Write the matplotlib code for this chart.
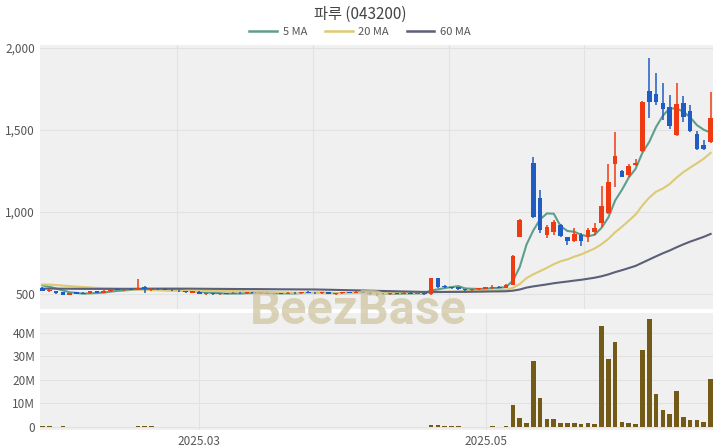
import numpy as np
import pandas as pd
import matplotlib
matplotlib.use('Agg')
import matplotlib.pyplot as plt
from matplotlib.lines import Line2D

plt.rcParams['font.family'] = ['Noto Sans CJK KR', 'DejaVu Sans']

title = '파루 (043200)'

# trading days shown (KRX holidays removed)
holidays = ['2025-01-27', '2025-01-28', '2025-01-29', '2025-01-30', '2025-03-03',
            '2025-05-01', '2025-05-05', '2025-05-06', '2025-06-03', '2025-06-06']
dates = pd.bdate_range('2025-01-23', '2025-06-24')
dates = dates[~dates.isin(pd.to_datetime(holidays))]

opens = [535, 515, 518, 510, 495, 510, 508, 503, 515, 505,
         515, 528, 525, 528, 525, 540, 525, 533, 532, 525,
         520, 518, 508, 512, 500, 505, 498, 503, 500, 506,
         503, 510, 505, 507, 500, 503, 499, 508, 504, 512,
         507, 503, 510, 500, 505, 508, 505, 513, 507, 498,
         502, 497, 503, 500, 507, 502, 505, 498, 595, 548,
         540, 540, 528, 524, 528, 530, 535, 545, 538, 555,
         848, 1235, 1300, 1085, 860, 880, 920, 845, 820, 860,
         850, 880, 930, 995, 1295, 1250, 1225, 1285, 1370, 1740,
         1720, 1665, 1640, 1470, 1665, 1615, 1475, 1410, 1425]
highs = [540, 528, 520, 512, 508, 512, 512, 518, 518, 522,
         532, 535, 532, 534, 592, 548, 535, 538, 538, 530,
         525, 520, 518, 515, 508, 508, 506, 508, 510, 510,
         512, 514, 510, 510, 506, 508, 510, 512, 514, 515,
         512, 512, 513, 508, 510, 512, 515, 516, 512, 506,
         506, 505, 508, 510, 512, 508, 508, 598, 597, 552,
         545, 545, 532, 532, 536, 545, 552, 550, 560, 735,
         955, 1235, 1335, 1135, 920, 950, 925, 850, 900, 870,
         900, 930, 1160, 1290, 1485, 1255, 1290, 1320, 1675, 1940,
         1845, 1785, 1715, 1785, 1710, 1650, 1495, 1440, 1730]
lows = [518, 512, 502, 494, 492, 498, 498, 500, 503, 503,
        512, 522, 520, 522, 522, 505, 520, 525, 522, 518,
        512, 506, 505, 500, 495, 496, 494, 498, 498, 500,
        500, 503, 500, 498, 495, 497, 497, 502, 502, 505,
        500, 500, 498, 496, 500, 503, 503, 505, 495, 490,
        495, 494, 498, 498, 500, 498, 496, 492, 535, 535,
        532, 522, 520, 520, 525, 528, 532, 535, 535, 552,
        845, 1235, 965, 870, 840, 860, 850, 800, 815, 790,
        815, 860, 910, 985, 1150, 1212, 1215, 1280, 1365, 1570,
        1655, 1560, 1505, 1465, 1550, 1485, 1378, 1380, 1420]
closes = [520, 525, 505, 496, 505, 500, 502, 515, 506, 518,
          528, 526, 528, 525, 535, 528, 532, 527, 525, 522,
          515, 510, 515, 502, 505, 498, 503, 500, 507, 503,
          510, 505, 507, 500, 503, 499, 508, 504, 512, 507,
          503, 510, 500, 505, 508, 505, 513, 507, 498, 502,
          497, 503, 500, 507, 502, 505, 498, 595, 540, 540,
          535, 528, 524, 530, 534, 540, 545, 538, 552, 730,
          950, 1235, 970, 890, 910, 940, 855, 825, 865, 820,
          890, 905, 1035, 1180, 1340, 1215, 1280, 1300, 1670, 1670,
          1670, 1625, 1525, 1660, 1580, 1495, 1385, 1385, 1575]
volumes_m = [0.3, 0.2, 0.15, 0.2, 0.15, 0.1, 0.1, 0.1, 0.1, 0.1,
             0.15, 0.1, 0.1, 0.15, 0.5, 0.4, 0.2, 0.15, 0.15, 0.1,
             0.1, 0.1, 0.1, 0.1, 0.1, 0.1, 0.1, 0.1, 0.1, 0.1,
             0.1, 0.1, 0.1, 0.1, 0.1, 0.1, 0.1, 0.1, 0.1, 0.1,
             0.1, 0.1, 0.1, 0.1, 0.1, 0.1, 0.1, 0.1, 0.15, 0.1,
             0.1, 0.1, 0.1, 0.1, 0.1, 0.1, 0.1, 1.0, 0.8, 0.3,
             0.2, 0.2, 0.1, 0.1, 0.1, 0.15, 0.2, 0.15, 0.3, 9.4,
             3.7, 1.6, 28.2, 12.2, 3.3, 3.3, 1.8, 1.6, 1.6, 1.4,
             1.8, 1.3, 43.0, 28.9, 36.2, 2.1, 1.6, 1.3, 32.6, 45.8,
             14.0, 7.4, 5.7, 15.2, 4.4, 2.8, 2.8, 2.3, 20.3]
# closes before the window, only used to seed the moving averages
prior_closes = [522, 518, 515, 520, 524, 519, 516, 514, 518, 521,
                523, 520, 517, 515, 512, 516, 519, 522, 520, 518,
                521, 524, 526, 522, 519, 517, 520, 523, 521, 518,
                516, 519, 522, 525, 521, 518, 520, 523, 519, 521,
                548, 556, 562, 565, 560, 558, 563, 567, 561, 557,
                560, 564, 558, 555, 561, 566, 559, 556, 560]

ma_windows = [5, 20, 60]
ma_labels = ['5 MA', '20 MA', '60 MA']
ma_colors = ['#5e9e8b', '#dcca74', '#5b5f78']

up_color = '#ee3b12'
down_color = '#1f5cc4'
vol_color = '#745a17'
bg = '#f0f0f0'
grid_c = '#e2e2e2'
text_c = '#555555'

o = np.array(opens, float)
h = np.array(highs, float)
l = np.array(lows, float)
c = np.array(closes, float)
v = np.array(volumes_m) * 1e6
x = np.arange(len(c))

all_close = pd.Series(prior_closes + closes, dtype=float)
n_prior = len(prior_closes)

fig = plt.figure(figsize=(7.2, 4.48), dpi=100)
ax = fig.add_axes([40 / 720, 1 - 309 / 448, 673 / 720, 264 / 448])
axv = fig.add_axes([40 / 720, 1 - 430 / 448, 673 / 720, 117 / 448])

for a in (ax, axv):
    a.set_facecolor(bg)
    for s in a.spines.values():
        s.set_visible(False)
    a.tick_params(length=0, labelsize=8.5, labelcolor=text_c)
    a.set_xlim(-0.35, len(c) - 0.65)
    a.set_axisbelow(True)

# moving averages
for w, lab, col in zip(ma_windows, ma_labels, ma_colors):
    ma = all_close.rolling(w).mean().to_numpy()[n_prior:]
    ax.plot(x, ma, color=col, lw=1.5, zorder=2)

# candles
up = c >= o
cols = np.where(up, up_color, down_color)
body_lo = np.minimum(o, c)
body_h = np.maximum(np.abs(c - o), 4)
ax.vlines(x, l, h, colors=cols, lw=1.1, zorder=3)
ax.bar(x, body_h, bottom=body_lo, width=0.68, color=cols, zorder=4, linewidth=0)

ax.set_ylim(408, 2018)
ax.set_yticks([500, 1000, 1500, 2000])
ax.set_yticklabels(['{:,}'.format(t) for t in [500, 1000, 1500, 2000]])
ax.set_xticks([19.8, 39.7, 59.6, 79.5])
ax.set_xticklabels([])
ax.grid(True, color=grid_c, lw=0.8)

# volume
axv.bar(x, v, width=0.68, color=vol_color, linewidth=0, zorder=3)
axv.set_ylim(-1.3e6, 48.5e6)
vt = [0, 10e6, 20e6, 30e6, 40e6]
axv.set_yticks(vt)
axv.set_yticklabels(['0' if t == 0 else '{:d}M'.format(int(t / 1e6)) for t in vt])
month_starts = [i for i in range(1, len(dates)) if dates[i].month != dates[i - 1].month]
tick_pos = [i for i in month_starts if dates[i].month in (3, 5)]
axv.set_xticks(tick_pos)
axv.set_xticklabels([dates[i].strftime('%Y.%m') for i in tick_pos])
axv.grid(True, color=grid_c, lw=0.8)

fig.text(0.5, 1 - 14 / 448, title, ha='center', va='center', fontsize=11, color='#444444')
handles = [Line2D([0], [0], color=col, lw=1.8) for col in ma_colors]
fig.legend(handles, ma_labels, loc='center', bbox_to_anchor=(0.5, 1 - 32 / 448), ncol=3,
           frameon=False, fontsize=8, handlelength=2.5, columnspacing=1.6, handletextpad=0.5,
           labelcolor=text_c)

fig.text(0.498, 1 - 311 / 448, 'BeezBase', ha='center', va='center', fontsize=35,
         fontweight='bold', family=['Roboto', 'DejaVu Sans'], color='#cfc6a0', alpha=0.75, zorder=10)

fig.savefig('out.png', dpi=100, facecolor='white')
